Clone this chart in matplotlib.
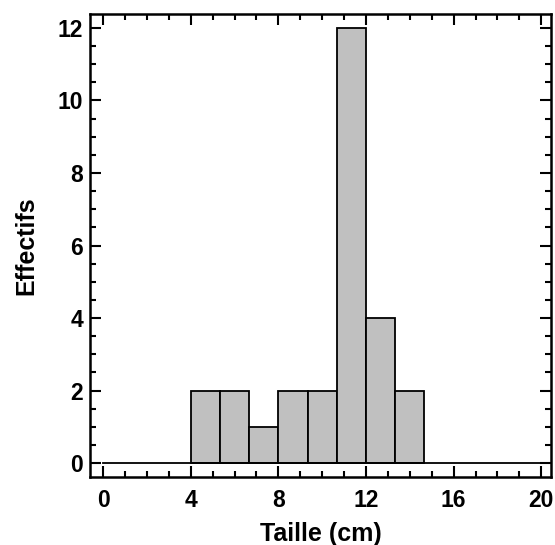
import matplotlib.pyplot as plt
from matplotlib import font_manager as fm
from matplotlib.ticker import MultipleLocator

# histogram of sizes (cm): bin edges and counts
bin_edges = [4.0, 4 + 4/3, 4 + 8/3, 8.0, 8 + 4/3, 8 + 8/3, 12.0, 12 + 4/3, 12 + 8/3]
counts = [2, 2, 1, 2, 2, 12, 4, 2]

# pick the regular-width Liberation Sans Bold (not Narrow)
bold_file = None
for f in fm.fontManager.ttflist:
    if f.fname.endswith('LiberationSans-Bold.ttf'):
        bold_file = f.fname
        break
if bold_file:
    tick_fp = fm.FontProperties(fname=bold_file, size=16.5)
    label_fp = fm.FontProperties(fname=bold_file, size=18)
else:
    tick_fp = fm.FontProperties(family='DejaVu Sans', weight='bold', size=15)
    label_fp = fm.FontProperties(family='DejaVu Sans', weight='bold', size=16)

fig = plt.figure(figsize=(5.55, 5.45), dpi=100)
ax = fig.add_axes([0.162, 0.125, 0.831, 0.849])

widths = [bin_edges[i + 1] - bin_edges[i] for i in range(len(counts))]
ax.bar(bin_edges[:-1], counts, width=widths, align='edge',
       color='#c0c0c0', edgecolor='black', linewidth=1.3, zorder=2)
ax.plot([0, 20], [0, 0], color='black', linewidth=1.3, zorder=3)

ax.set_xlim(-0.6, 20.45)
ax.set_ylim(-0.38, 12.38)
ax.xaxis.set_major_locator(MultipleLocator(4))
ax.xaxis.set_minor_locator(MultipleLocator(1))
ax.yaxis.set_major_locator(MultipleLocator(2))
ax.yaxis.set_minor_locator(MultipleLocator(0.5))
ax.tick_params(which='both', direction='in', top=True, right=True, width=1.5)
ax.tick_params(which='major', length=8)
ax.tick_params(axis='x', which='major', pad=9)
ax.tick_params(axis='y', which='major', pad=5)
ax.tick_params(which='minor', length=4)
for lbl in ax.get_xticklabels() + ax.get_yticklabels():
    lbl.set_fontproperties(tick_fp)
for s in ax.spines.values():
    s.set_linewidth(1.8)

ax.set_xlabel('Taille (cm)', fontproperties=label_fp, labelpad=7)
ax.set_ylabel('Effectifs', fontproperties=label_fp, labelpad=14)

fig.savefig('out.png', dpi=100)
